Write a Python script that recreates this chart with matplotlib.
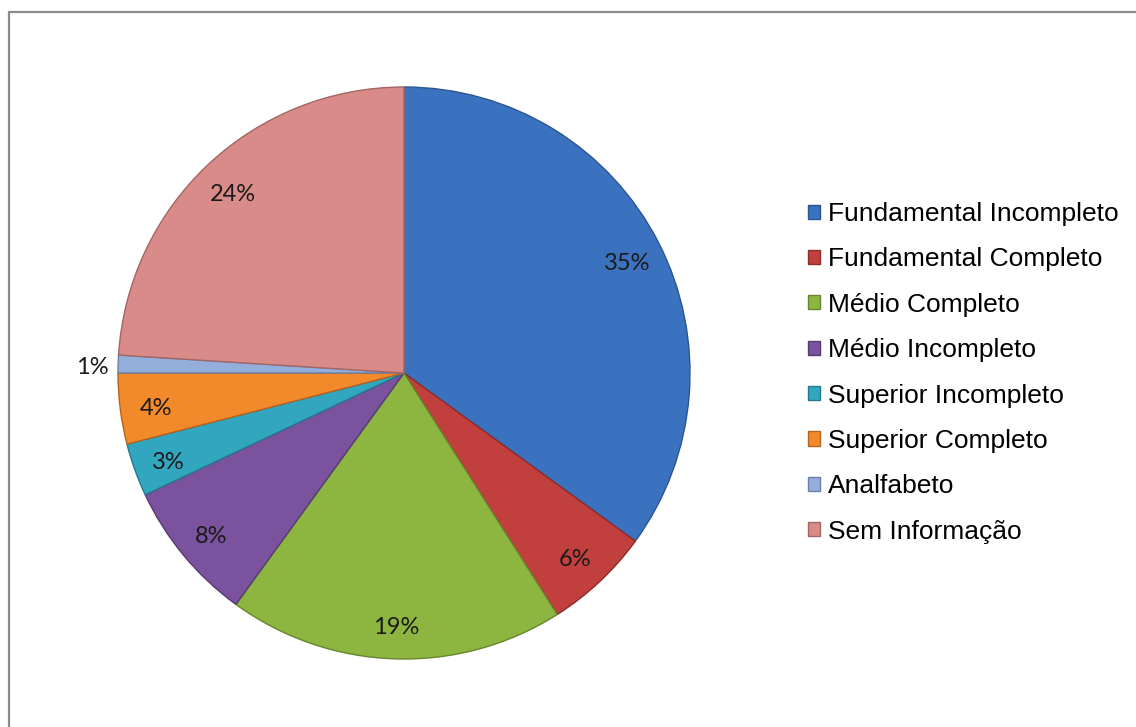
import numpy as np
import matplotlib
matplotlib.use("Agg")
import matplotlib.pyplot as plt
from matplotlib.lines import Line2D

# Escolaridade - distribuição percentual
categorias = [
    "Fundamental Incompleto",
    "Fundamental Completo",
    "Médio Completo",
    "Médio Incompleto",
    "Superior Incompleto",
    "Superior Completo",
    "Analfabeto",
    "Sem Informação",
]
percentuais = [35, 6, 19, 8, 3, 4, 1, 24]

CORES = ["#3B72BF", "#C13F3C", "#8DB641", "#7A529E",
         "#33A6BF", "#F28A2C", "#93AEDB", "#D98B89"]
BORDAS = ["#2A5590", "#8E2C2A", "#66862E", "#573A72",
          "#25798C", "#B5631E", "#6A80A6", "#A46664"]

W, H = 1136, 727
fig = plt.figure(figsize=(W / 100, H / 100), dpi=100)

# pie area: centre at (404, 373) px, radius 286 px
cx, cy, R = 404, 373, 286
half = 300
ax = fig.add_axes([(cx - half) / W, (H - cy - half) / H, 2 * half / W, 2 * half / H])

wedges, textos = ax.pie(
    percentuais, colors=CORES, startangle=90, counterclock=False, radius=1,
    wedgeprops=dict(linewidth=1.0),
)
for w, b in zip(wedges, BORDAS):
    w.set_edgecolor(b)

ax.set_xlim(-half / R, half / R)
ax.set_ylim(-half / R, half / R)
ax.set_aspect("equal")
ax.axis("off")

# percentage labels, the 1% slice gets its label outside the pie
for w, v in zip(wedges, percentuais):
    ang = np.deg2rad((w.theta1 + w.theta2) / 2)
    d = 1.09 if v < 2 else 0.875
    ax.text(d * np.cos(ang), d * np.sin(ang) - 0.015, f"{v}%", ha="center", va="center",
            fontsize=17, family="Lato", color="#1a1a1a")

leg = fig.legend(
    wedges, categorias, loc="upper left", bbox_to_anchor=(808 / W, 1 - 202 / H),
    frameon=False, prop={"family": "Liberation Sans", "size": 19},
    handlelength=0.45, handleheight=0.45, handletextpad=0.3,
    labelspacing=0.81, borderpad=0, borderaxespad=0,
)

# chart area frame (left and top edges)
borda = "#8c8c8c"
fig.add_artist(Line2D([8.5 / W, 8.5 / W], [0, 1 - 11.5 / H], color=borda, lw=1.6,
                      transform=fig.transFigure, solid_capstyle="butt"))
fig.add_artist(Line2D([8 / W, 1], [1 - 11.5 / H, 1 - 11.5 / H], color=borda, lw=1.6,
                      transform=fig.transFigure, solid_capstyle="butt"))

fig.savefig("out.png", dpi=100)
